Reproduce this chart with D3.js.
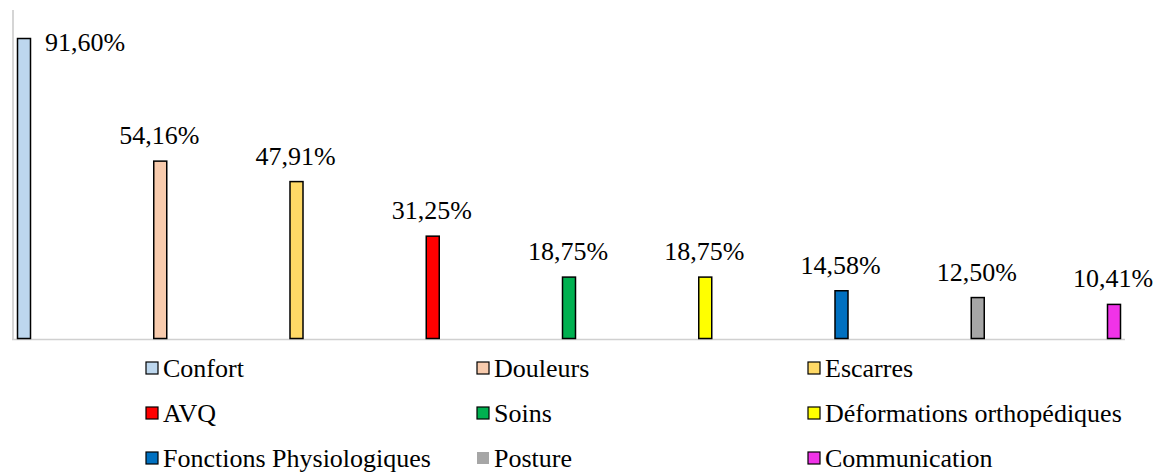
<!DOCTYPE html>
<html>
<head>
<meta charset="utf-8">
<script src="https://cdn.jsdelivr.net/npm/d3@7"></script>
<style>
  html, body { margin: 0; padding: 0; background: #fff; }
  svg { display: block; }
</style>
</head>
<body>
<svg id="svg" width="1164" height="472"></svg>
<script>
// data
const categories = ['Confort', 'Douleurs', 'Escarres', 'AVQ', 'Soins',
    'Déformations orthopédiques', 'Fonctions Physiologiques', 'Posture', 'Communication'];
const values = [91.60, 54.16, 47.91, 31.25, 18.75, 18.75, 14.58, 12.50, 10.41];
const labels = ['91,60%', '54,16%', '47,91%', '31,25%', '18,75%', '18,75%', '14,58%', '12,50%', '10,41%'];
const colors = ['#bdd7ee', '#f8cbad', '#ffd966', '#ff0000', '#00b050',
    '#ffff00', '#0070c0', '#a6a6a6', '#f033e8'];
// legend order (3 columns, row by row)
const legendOrder = ['Confort', 'Douleurs', 'Escarres', 'AVQ', 'Soins',
    'Déformations orthopédiques', 'Fonctions Physiologiques', 'Posture', 'Communication'];

const FONT = 'Liberation Serif';
const svg = d3.select('#svg');
const baseline = 338.5;

const x = d3.scalePoint().domain(categories).range([24, 1114]);
const y = d3.scaleLinear().domain([0, 100]).range([baseline, 11]);
const color = d3.scaleOrdinal().domain(categories).range(colors);

const barWidth = 13;

// axis lines
svg.append('line')
    .attr('x1', 13).attr('x2', 13)
    .attr('y1', 10).attr('y2', 339.5)
    .attr('stroke', '#bfbfbf').attr('stroke-width', 1.3);

svg.append('line')
    .attr('x1', 12).attr('x2', 1125)
    .attr('y1', 339.5).attr('y2', 339.5)
    .attr('stroke', '#d0d0d0').attr('stroke-width', 1.3);

const data = categories.map((c, i) => ({ cat: c, value: values[i], label: labels[i] }));

// bars
svg.selectAll('rect.bar')
    .data(data)
    .enter()
    .append('rect')
    .attr('class', 'bar')
    .attr('x', d => x(d.cat) - barWidth / 2)
    .attr('y', d => y(d.value))
    .attr('width', barWidth)
    .attr('height', d => baseline - y(d.value))
    .attr('fill', d => color(d.cat))
    .attr('stroke', '#000')
    .attr('stroke-width', 1.5);

// value labels (first one sits to the right of its bar)
svg.selectAll('text.val')
    .data(data)
    .enter()
    .append('text')
    .attr('class', 'val')
    .text(d => d.label)
    .attr('x', (d, i) => i === 0 ? x(d.cat) + 21 : x(d.cat) - 1)
    .attr('y', (d, i) => i === 0 ? y(d.value) + 12 : y(d.value) - 17)
    .attr('text-anchor', (d, i) => i === 0 ? 'start' : 'middle')
    .attr('font-family', FONT)
    .attr('font-size', 26)
    .attr('fill', '#000');

// legend
const colX = [146, 477, 808];
const rowY = [368, 413, 458];

const legend = svg.selectAll('g.leg')
    .data(legendOrder)
    .enter()
    .append('g')
    .attr('class', 'leg')
    .attr('transform', (d, i) => `translate(${colX[i % 3]},${rowY[Math.floor(i / 3)]})`);

legend.append('rect')
    .attr('x', 0).attr('y', -6)
    .attr('width', 12).attr('height', 12)
    .attr('fill', d => color(d))
    .attr('stroke', d => d === 'Posture' ? 'none' : '#000')
    .attr('stroke-width', 1.2);

legend.append('text')
    .attr('x', 17)
    .attr('y', 8.5)
    .attr('font-family', FONT)
    .attr('font-size', 26)
    .attr('fill', '#000')
    .text(d => d);
</script>
</body>
</html>
